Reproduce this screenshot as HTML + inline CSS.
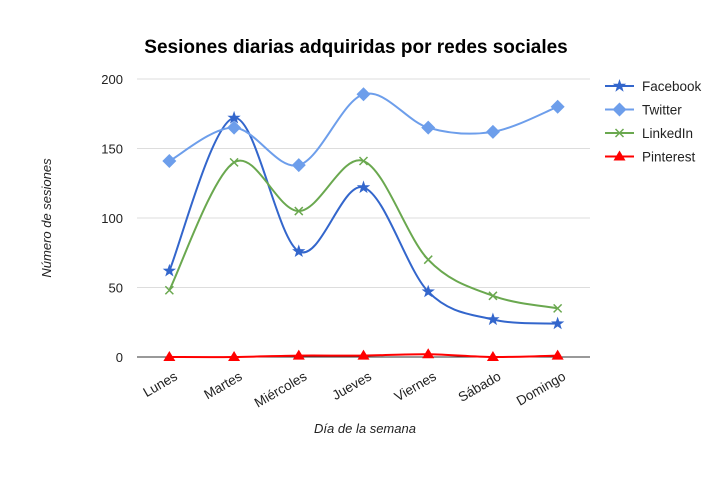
<!DOCTYPE html>
<html><head><meta charset="utf-8"><style>
body{margin:0;background:#fff}
svg{font-family:"Liberation Sans",Arial,sans-serif}
</style></head><body>
<svg id="c" width="721" height="472">
<text x="356" y="53" text-anchor="middle" font-size="19" font-weight="bold" fill="#000">Sesiones diarias adquiridas por redes sociales</text>
<g id="grid"></g><g id="series"></g><g id="legend"></g>
<text x="365" y="433" text-anchor="middle" font-size="13" font-style="italic" fill="#222">Día de la semana</text>
<text transform="translate(51,218) rotate(-90)" text-anchor="middle" font-size="13" font-style="italic" fill="#222">Número de sesiones</text>
</svg>
<script>
const categories=["Lunes","Martes","Miércoles","Jueves","Viernes","Sábado","Domingo"];
const facebook=[62,172,76,122,47,27,24];
const twitter=[141,165,138,189,165,162,180];
const linkedin=[48,140,105,141,70,44,35];
const pinterest=[0,0,1,1,2,0,1];
const yTicks=[0,50,100,150,200];
const NS="http://www.w3.org/2000/svg";
const x0=137,x1=590,y0=357,y1=79;
const step=(x1-x0)/categories.length;
const xs=i=>x0+step*(i+0.5);
const ys=v=>y0-(v/200)*(y0-y1);
function mk(t,a,p){const e=document.createElementNS(NS,t);for(const k in a)e.setAttribute(k,a[k]);p.appendChild(e);return e;}
const grid=document.getElementById('grid');
yTicks.forEach(v=>{
 const l=mk('line',{x1:x0,x2:x1,y1:ys(v),y2:ys(v),stroke:v===0?'#333':'#ddd','stroke-width':1},grid);
 
 
 const t=mk('text',{x:x0-14,y:ys(v)+5,'text-anchor':'end','font-size':13,fill:'#222'},grid);
 t.textContent=v;
 
 
});
categories.forEach((c,i)=>{
 const t=mk('text',{transform:`translate(${xs(i)+9},${y0+22}) rotate(-30)`,'text-anchor':'end','font-size':13.5,fill:'#222'},grid);
 t.textContent=c;
 
 
});
function curve(vals){
 const p=vals.map((v,i)=>[xs(i),ys(v)]);
 let d=`M${p[0][0]},${p[0][1]}`;
 for(let i=0;i<p.length-1;i++){
  const a=p[Math.max(0,i-1)],b=p[i],c=p[i+1],e=p[Math.min(p.length-1,i+2)];
  const k=1/6;
  d+=` C${b[0]+(c[0]-a[0])*k},${b[1]+(c[1]-a[1])*k} ${c[0]-(e[0]-b[0])*k},${c[1]-(e[1]-b[1])*k} ${c[0]},${c[1]}`;
 }
 return d;
}
function marker(type,x,y,col,g){
 let e;
 if(type==='star'){let pts=[];for(let k=0;k<10;k++){const r=k%2?2.8:7;const a=-Math.PI/2+k*Math.PI/5;pts.push((x+r*Math.cos(a)).toFixed(1)+','+(y+r*Math.sin(a)).toFixed(1));}
  e=mk('polygon',{points:pts.join(' '),fill:col},g);}
 else if(type==='diamond'){e=mk('polygon',{points:`${x},${y-7} ${x+7},${y} ${x},${y+7} ${x-7},${y}`,fill:col},g);}
 else if(type==='x'){e=mk('path',{d:`M${x-4},${y-4}L${x+4},${y+4}M${x+4},${y-4}L${x-4},${y+4}`,stroke:col,'stroke-width':1.5},g);}
 else {e=mk('polygon',{points:`${x},${y-6} ${x+6},${y+4} ${x-6},${y+4}`,fill:col},g);}
 return e;
}
const series=[
 {name:'Facebook',vals:facebook,col:'#3366cc',m:'star'},
 {name:'Twitter',vals:twitter,col:'#6d9eeb',m:'diamond'},
 {name:'LinkedIn',vals:linkedin,col:'#6aa84f',m:'x'},
 {name:'Pinterest',vals:pinterest,col:'#ff0000',m:'tri'}];
const sg=document.getElementById('series'),lg=document.getElementById('legend');
series.forEach((s,j)=>{
 const g=mk('g',{},sg);
 
 
 const p=mk('path',{d:curve(s.vals),fill:'none',stroke:s.col,'stroke-width':2},g);
 
 
 s.vals.forEach((v,i)=>{const m=marker(s.m,xs(i),ys(v),s.col,g);
  
  });
 const ly=86+j*23.5;
 const le=mk('g',{},lg);
 
 
 mk('line',{x1:605,x2:634,y1:ly,y2:ly,stroke:s.col,'stroke-width':2},le);
 marker(s.m,619.5,ly,s.col,le);
 const t=mk('text',{x:642,y:ly+5,'font-size':13.5,fill:'#222'},le);
 t.textContent=s.name;
});
</script>
</body></html>
